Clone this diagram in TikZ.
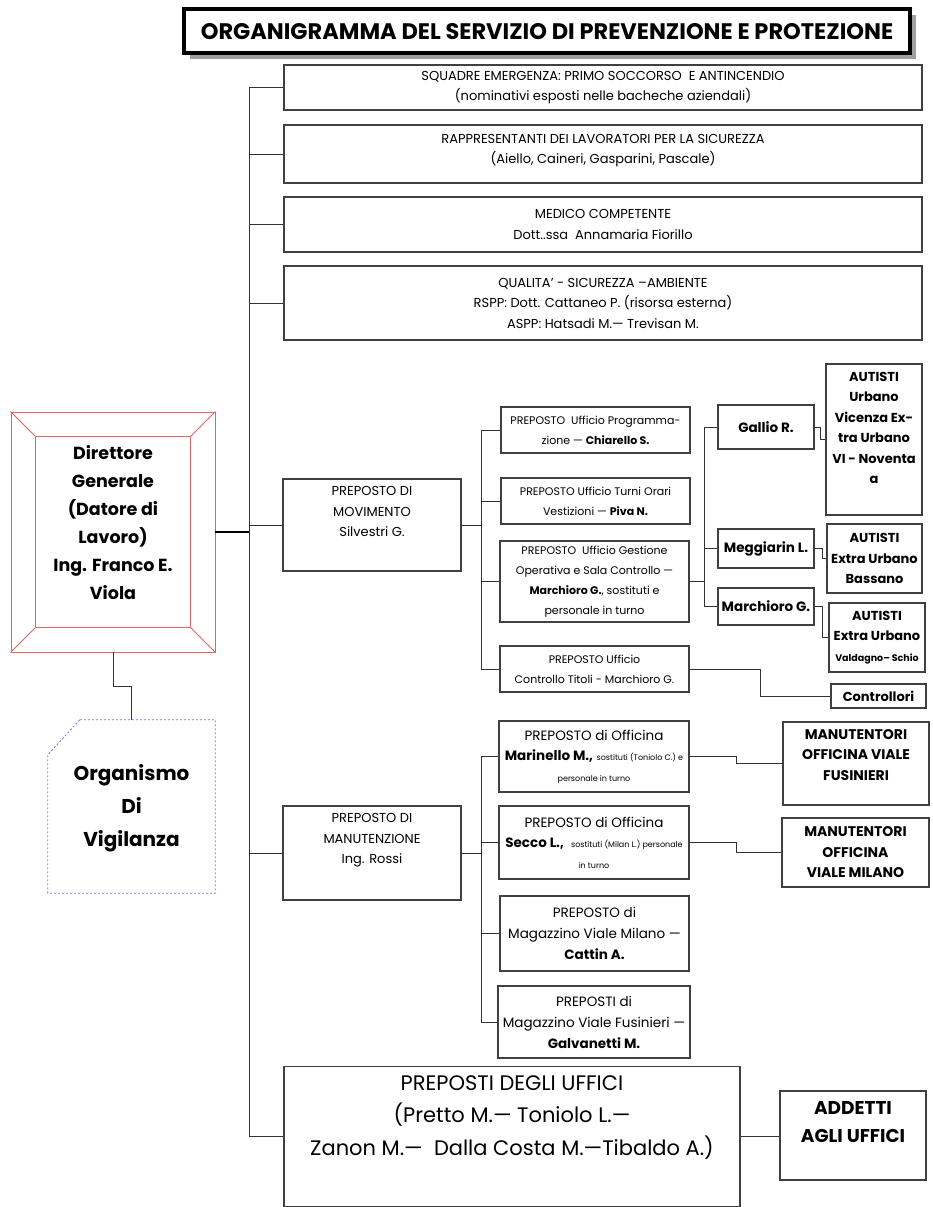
\documentclass[tikz,border=0pt]{standalone}
\usepackage{fontspec}
\setmainfont{Poppins}
\usetikzlibrary{shadows,calc}
\definecolor{boxgray}{HTML}{404040}
\definecolor{dirred}{HTML}{E06666}
\definecolor{orgblue}{HTML}{7474E0}
\newcommand{\piccolo}[1]{{\fontsize{8}{12}\selectfont #1}}
\tikzset{
  box/.style={draw=boxgray,line width=1.2pt,fill=white,align=center,inner sep=1pt,
    font=\fontsize{11}{20}\selectfont},
  big/.style={font=\fontsize{13}{20.5}\selectfont},
  bigb/.style={font=\bfseries\fontsize{13}{20.5}\selectfont},
  lift/.style={text depth=#1},
  conn/.style={draw=black!80,line width=0.9pt}
}
\begin{document}
\begin{tikzpicture}[x=1pt,y=-1pt]
\useasboundingbox (0,0) rectangle (932,1207);
% titolo
\node[draw=black,line width=4pt,fill=white,minimum width=726pt,minimum height=44pt,
  font=\bfseries\fontsize{22.5}{24}\selectfont,
  drop shadow={shadow xshift=6pt,shadow yshift=-6pt,fill=gray!75,opacity=1}]
  (titolo) at (547,31.5) {ORGANIGRAMMA DEL SERVIZIO DI PREVENZIONE E PROTEZIONE};

% datore di lavoro
\node[draw=dirred,line width=0.8pt,minimum width=204pt,minimum height=240pt,align=center,lift=19pt,
  font=\bfseries\fontsize{17.5}{28}\selectfont]
  (direttore) at (113,532) {Direttore\\Generale\\(Datore di\\Lavoro)\\Ing. Franco E.\\Viola};
\draw[dirred,line width=0.8pt] ($(direttore.north west)+(25,25)$) rectangle ($(direttore.south east)+(-25,-25)$);
\foreach \a/\dx/\dy in {north west/25/25,north east/-25/25,south west/25/-25,south east/-25/-25}
  \draw[dirred,line width=0.8pt] (direttore.\a) -- ++(\dx,\dy);

\node[minimum width=167pt,minimum height=173pt,align=center,lift=2pt,font=\bfseries\fontsize{20}{33}\selectfont]
  (organismo) at (131.5,806.5) {Organismo\\Di\\Vigilanza};
\draw[orgblue,line width=0.8pt,dash pattern=on 2pt off 2pt] ([xshift=32pt]organismo.north west) -- (organismo.north east)
  -- (organismo.south east) -- (organismo.south west) -- ([yshift=-35pt]organismo.north west) -- cycle;

% primo livello
\node[box,big,minimum width=638pt,minimum height=45pt] (squadre) at (603,87.5)
  {SQUADRE EMERGENZA: PRIMO SOCCORSO \ E ANTINCENDIO\\(nominativi esposti nelle bacheche aziendali)};
\node[box,big,minimum width=638pt,minimum height=58pt,lift=10pt] (rls) at (603,154)
  {RAPPRESENTANTI DEI LAVORATORI PER LA SICUREZZA\\(Aiello, Caineri, Gasparini, Pascale)};
\node[box,big,minimum width=638pt,minimum height=55pt] (medico) at (603,224.5)
  {MEDICO COMPETENTE\\Dott..ssa \ Annamaria Fiorillo};
\node[box,big,minimum width=638pt,minimum height=74pt] (qualita) at (603,303)
  {QUALITA' - SICUREZZA –AMBIENTE\\RSPP: Dott. Cattaneo P. (risorsa esterna)\\ASPP: Hatsadi M.— Trevisan M.};
\node[box,big,minimum width=178pt,minimum height=92pt,lift=27pt] (movimento) at (372,525)
  {PREPOSTO DI\\MOVIMENTO\\Silvestri G.};
\node[box,big,minimum width=178pt,minimum height=94pt,lift=29pt] (manutenzione) at (372,853)
  {PREPOSTO DI\\MANUTENZIONE\\Ing. Rossi};
\node[box,minimum width=456pt,minimum height=140pt,lift=42pt,font=\fontsize{21}{32.5}\selectfont] (uffici) at (512,1136.5)
  {PREPOSTI DEGLI UFFICI\\(Pretto M.— Toniolo L.—\\Zanon M.— \ Dalla Costa M.—Tibaldo A.)};

% movimento
\node[box,minimum width=189pt,minimum height=46pt] (programm) at (595.5,430)
  {PREPOSTO \ Ufficio Programma-\\zione — \textbf{Chiarello S.}};
\node[box,minimum width=189pt,minimum height=46pt] (turni) at (595.5,501)
  {PREPOSTO Ufficio Turni Orari\\Vestizioni — \textbf{Piva N.}};
\node[box,minimum width=189pt,minimum height=81pt] (gestione) at (594.5,581.5)
  {PREPOSTO \ Ufficio Gestione\\Operativa e Sala Controllo —\\\textbf{Marchioro G.}, sostituti e\\personale in turno};
\node[box,minimum width=189pt,minimum height=46pt] (titoli) at (594.5,669)
  {PREPOSTO Ufficio\\Controllo Titoli - Marchioro G.};
\node[box,bigb,font=\bfseries\fontsize{13.5}{20.5}\selectfont,minimum width=96pt,minimum height=44pt] (gallio) at (766,427) {Gallio R.};
\node[box,bigb,font=\bfseries\fontsize{13.5}{20.5}\selectfont,minimum width=96pt,minimum height=39pt] (meggiarin) at (766,548.5) {Meggiarin L.};
\node[box,bigb,font=\bfseries\fontsize{13.5}{20.5}\selectfont,minimum width=96pt,minimum height=37pt] (marchioro) at (766,606.5) {Marchioro G.};
\node[box,bigb,minimum width=96pt,minimum height=151pt,lift=23pt] (autisti1) at (874,439.5)
  {AUTISTI\\Urbano\\Vicenza Ex-\\tra Urbano\\VI - Noventa\\a};
\node[box,bigb,minimum width=95pt,minimum height=69pt] (autisti2) at (874.5,558.5)
  {AUTISTI\\Extra Urbano\\Bassano};
\node[box,bigb,minimum width=96pt,minimum height=69pt] (autisti3) at (877,637.5)
  {AUTISTI\\Extra Urbano\\{\fontsize{9.5}{10}\selectfont Valdagno– Schio}};
\node[box,bigb,minimum width=95pt,minimum height=24pt] (controllori) at (878.5,696) {Controllori};

% manutenzione
\node[box,font=\fontsize{13.5}{20.5}\selectfont,minimum width=190pt,minimum height=71pt] (officina1) at (594,756.5)
  {PREPOSTO di Officina\\\textbf{Marinello M.,} \piccolo{sostituti (Toniolo C.) e}\\\piccolo{personale in turno}};
\node[box,font=\fontsize{13.5}{20.5}\selectfont,minimum width=190pt,minimum height=73pt] (officina2) at (594,842.5)
  {PREPOSTO di Officina\\\textbf{Secco L.,} \ \piccolo{sostituti (Milan L.) personale}\\\piccolo{in turno}};
\node[box,font=\fontsize{13.5}{21}\selectfont,minimum width=189pt,minimum height=75pt] (magmilano) at (594.5,933.5)
  {PREPOSTO di\\Magazzino Viale Milano —\\\textbf{Cattin A.}};
\node[box,font=\fontsize{13.5}{21}\selectfont,minimum width=192pt,minimum height=72pt] (magfus) at (594,1022)
  {PREPOSTI di\\Magazzino Viale Fusinieri —\\\textbf{Galvanetti M.}};
\node[box,font=\bfseries\fontsize{14}{20.5}\selectfont,minimum width=146pt,minimum height=83pt,lift=17pt] (manfus) at (856,763.5)
  {MANUTENTORI\\OFFICINA VIALE\\FUSINIERI};
\node[box,font=\bfseries\fontsize{14}{20.5}\selectfont,minimum width=147pt,minimum height=69pt] (manmil) at (855.5,852.5)
  {MANUTENTORI\\OFFICINA\\VIALE MILANO};
\node[box,minimum width=146pt,minimum height=89pt,lift=28pt,font=\bfseries\fontsize{18.5}{28}\selectfont] (addetti) at (853,1135.5)
  {ADDETTI\\AGLI UFFICI};

% collegamenti
\coordinate (trunk) at (249,0);
\coordinate (busA) at (481,0);
\coordinate (busB) at (704,0);
\draw[conn] (trunk |- squadre.west) -- (trunk |- uffici.west);
\foreach \n in {squadre,rls,medico,qualita,movimento,manutenzione,uffici}
  \draw[conn] (trunk |- \n.west) -- (\n.west);
\draw[black,line width=2pt] (direttore.east) -- (trunk |- direttore.east);
\draw[conn] (direttore.south) -- ++(0,34) -| (organismo.north);

\draw[conn] (movimento.east) -- (busA |- movimento.east);
\draw[conn] (busA |- programm.west) -- (busA |- titoli.west);
\foreach \n in {programm,turni,gestione,titoli}
  \draw[conn] (busA |- \n.west) -- (\n.west);
\draw[conn] (gestione.east) -- (busB |- gestione.east);
\draw[conn] (busB |- gallio.west) -- (busB |- marchioro.west);
\foreach \n in {gallio,meggiarin,marchioro}
  \draw[conn] (busB |- \n.west) -- (\n.west);
\draw[conn] (gallio.east) -- ++(6,0) |- (autisti1.west);
\draw[conn] (meggiarin.east) -- ++(8,0) |- (autisti2.west);
\draw[conn] (marchioro.east) -- ++(8,0) |- (autisti3.west);
\draw[conn] (titoli.east) -- ++(71,0) |- (controllori.west);

\draw[conn] (manutenzione.east) -- (busA |- manutenzione.east);
\draw[conn] (busA |- officina1.west) -- (busA |- magfus.west);
\foreach \n in {officina1,officina2,magmilano,magfus}
  \draw[conn] (busA |- \n.west) -- (\n.west);
\draw[conn] (officina1.east) -- ++(47,0) |- (manfus.west);
\draw[conn] (officina2.east) -- ++(47,0) |- (manmil.west);
\draw[conn] (uffici.east) -- (uffici.east -| addetti.west);
\end{tikzpicture}
\end{document}
